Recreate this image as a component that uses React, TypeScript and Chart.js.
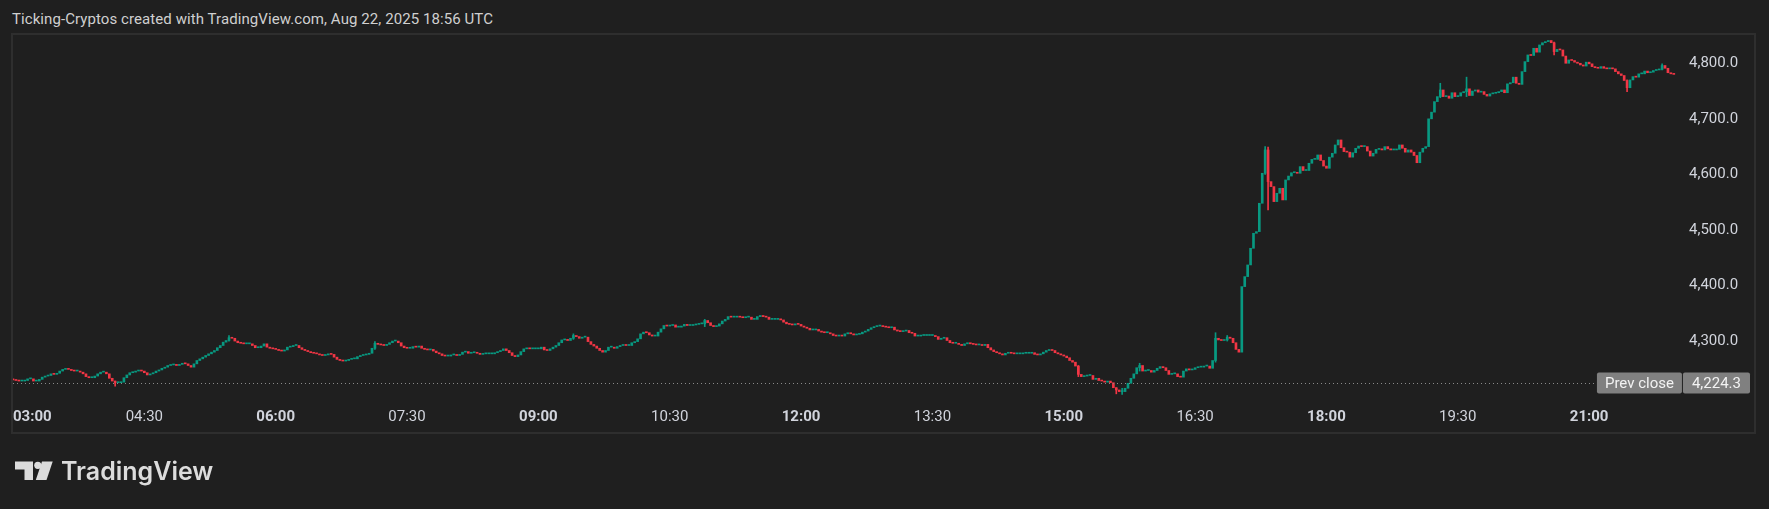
import React, { useEffect, useRef } from "react";
import { Chart, registerables } from "chart.js";

Chart.register(...registerables);

// ---------- data ----------
const titleText = "Ticking-Cryptos created with TradingView.com, Aug 22, 2025 18:56 UTC";
const candleMinutes = 2; // minutes per candle, first candle at 03:00
const firstOpen = 4231;

// 03:00 - 08:00
const closesA = [
  4230, 4229, 4228, 4228, 4229, 4232, 4232, 4228, 4228, 4231,
  4235, 4237, 4238, 4241, 4240, 4242, 4246, 4249, 4250, 4249,
  4247, 4246, 4246, 4244, 4241, 4236, 4234, 4234, 4237, 4241,
  4244, 4244, 4241, 4233, 4228, 4225, 4225, 4226, 4234, 4239,
  4243, 4244, 4246, 4247, 4246, 4243, 4239, 4241, 4243, 4246,
  4248, 4251, 4253, 4256, 4257, 4258, 4256, 4258, 4260, 4259,
  4256, 4253, 4259, 4265, 4268, 4271, 4274, 4277, 4280, 4283,
  4288, 4292, 4298, 4301, 4306, 4305, 4300, 4297, 4296, 4295,
  4295, 4295, 4292, 4288, 4288, 4291, 4295, 4289, 4287, 4286,
  4285, 4283, 4282, 4284, 4289, 4290, 4292, 4292, 4288, 4285,
  4283, 4281, 4279, 4278, 4277, 4275, 4274, 4275, 4277, 4276,
  4271, 4267, 4265, 4264, 4265, 4267, 4268, 4268, 4272, 4274,
  4275, 4276, 4278, 4287, 4296, 4294, 4293, 4292, 4294, 4297,
  4300, 4300, 4297, 4291, 4288, 4287, 4287, 4290, 4289, 4291,
  4287, 4285, 4284, 4285, 4282, 4279, 4277, 4274, 4273, 4273,
  4275,
];
// 08:02 - 12:54
const closesB = [
  4275, 4274, 4276, 4280, 4281, 4278, 4279, 4279, 4278,
  4276, 4277, 4277, 4277, 4277, 4279, 4281, 4283, 4286, 4283,
  4279, 4274, 4272, 4275, 4281, 4286, 4287, 4286, 4286, 4286,
  4286, 4289, 4284, 4283, 4286, 4289, 4292, 4297, 4302, 4303,
  4301, 4305, 4310, 4308, 4305, 4307, 4307, 4299, 4294, 4291,
  4287, 4283, 4280, 4283, 4289, 4289, 4287, 4290, 4292, 4293,
  4292, 4292, 4297, 4299, 4304, 4313, 4316, 4315, 4311, 4309,
  4309, 4316, 4322, 4328, 4327, 4328, 4329, 4325, 4325, 4327,
  4330, 4328, 4328, 4329, 4330, 4331, 4331, 4337, 4333, 4328,
  4326, 4327, 4331, 4336, 4339, 4344, 4343, 4343, 4344, 4343,
  4342, 4343, 4343, 4339, 4339, 4344, 4346, 4344, 4343, 4339,
  4339, 4339, 4340, 4338, 4334, 4331, 4330, 4329, 4331, 4330,
  4327, 4325, 4323, 4320, 4320, 4321, 4318, 4316, 4315, 4315,
  4313, 4310, 4309, 4310, 4309, 4313, 4315, 4313, 4311, 4312,
  4313, 4316, 4318, 4321, 4324, 4326, 4327, 4327,
];
// 12:56 - 17:00
const closesC = [
  4326, 4325, 4324, 4325, 4320, 4318, 4317, 4318, 4319, 4315,
  4314, 4309, 4309, 4310, 4310, 4310, 4310, 4310, 4308, 4303,
  4305, 4306, 4301, 4297, 4296, 4296, 4294, 4292, 4295, 4297,
  4295, 4294, 4293, 4293, 4292, 4294, 4288, 4284, 4281, 4279,
  4277, 4275, 4278, 4279, 4278, 4277, 4277, 4277, 4278, 4278,
  4278, 4279, 4276, 4275, 4277, 4280, 4283, 4284, 4283, 4279,
  4277, 4275, 4273, 4270, 4265, 4262, 4255, 4240, 4236, 4237,
  4238, 4238, 4231, 4233, 4229, 4228, 4226, 4228, 4225, 4216,
  4212, 4209, 4209, 4215, 4224, 4233, 4241, 4252, 4256, 4246,
  4247, 4247, 4244, 4247, 4251, 4254, 4252, 4247, 4240, 4241,
  4241, 4236, 4235, 4246, 4250, 4248, 4249, 4252, 4253, 4253,
  4255, 4255, 4251, 4265, 4305, 4302, 4301, 4302, 4307, 4305,
  4297, 4285, 4280,
];
// 17:02 - 19:32
const closesD = [
  4398, 4416, 4437, 4467, 4494, 4497, 4548, 4602, 4644,
  4587, 4578, 4551, 4566, 4575, 4554, 4590, 4597, 4603, 4603,
  4602, 4614, 4607, 4607, 4620, 4627, 4627, 4635, 4625, 4615,
  4611, 4631, 4638, 4653, 4662, 4648, 4641, 4640, 4631, 4639,
  4647, 4651, 4650, 4650, 4642, 4633, 4638, 4645, 4646, 4644,
  4650, 4646, 4644, 4644, 4645, 4653, 4647, 4640, 4644, 4640,
  4634, 4621, 4640, 4647, 4650, 4700, 4712, 4731, 4740, 4752,
  4740, 4741, 4737, 4747, 4740, 4741, 4747,
];
// 19:34 - 21:58
const closesE = [
  4749, 4754, 4742, 4750, 4752, 4748, 4749, 4744, 4741, 4745,
  4746, 4747, 4749, 4752, 4747, 4763, 4765, 4775, 4764, 4762,
  4785, 4803, 4815, 4814, 4827, 4820, 4833, 4837, 4839, 4841,
  4837, 4821, 4825, 4824, 4813, 4800, 4806, 4805, 4802, 4800,
  4797, 4795, 4802, 4799, 4794, 4792, 4791, 4794, 4791, 4790,
  4791, 4790, 4785, 4781, 4778, 4769, 4756, 4770, 4776, 4775,
  4781, 4781, 4786, 4783, 4784, 4787, 4788, 4789, 4796, 4791,
  4783, 4781, 4780,
];

// candles whose wicks reach beyond the body
const wickIndex = [35, 74, 124, 192, 237, 365, 378, 380, 386, 412, 416, 429, 430, 489, 498, 528, 553, 565];
const wickHigh = [4228, 4310, 4299, 4313, 4339, 4256, 4216, 4215, 4260, 4315, 4310, 4650, 4649, 4764, 4775, 4838, 4770, 4799];
const wickLow = [4219, 4300, 4285, 4303, 4326, 4236, 4205, 4204, 4246, 4262, 4300, 4600, 4536, 4738, 4740, 4815, 4749, 4788];

const timeLabels = ["03:00", "04:30", "06:00", "07:30", "09:00", "10:30", "12:00", "13:30", "15:00", "16:30", "18:00", "19:30", "21:00"];
const timeLabelStep = 90; // minutes
const boldEvery = 180; // minutes
const priceTicks = [4300, 4400, 4500, 4600, 4700, 4800];
const prevClose = 4224.3;

// ---------- style ----------
const FONT = "Roboto, 'Liberation Sans', sans-serif";
const UP = "#089981";
const DOWN = "#f23645";
const BG = "#1f1f1f";
const TEXT = "#d1d4dc";

const closes = [...closesA, ...closesB, ...closesC, ...closesD, ...closesE];

function fmtPrice(v: number) {
  return v.toLocaleString("en-US", { minimumFractionDigits: 1, maximumFractionDigits: 1 });
}

const overlayPlugin = {
  id: "tvOverlay",
  afterDraw(chart: any) {
    const { ctx, chartArea, scales } = chart;
    const xs = scales.x;
    const ys = scales.y;
    ctx.save();
    // time axis labels
    ctx.textBaseline = "middle";
    ctx.textAlign = "left";
    timeLabels.forEach((lab, k) => {
      const v = k * timeLabelStep;
      const bold = v % boldEvery === 0;
      ctx.font = `${bold ? "bold " : ""}15px ${FONT}`;
      ctx.fillStyle = TEXT;
      const w = ctx.measureText(lab).width;
      let x = xs.getPixelForValue(v) - w / 2;
      if (x < chartArea.left) x = chartArea.left;
      ctx.fillText(lab, x, chartArea.bottom + 13);
    });

    // previous close line + labels
    const y = Math.round(ys.getPixelForValue(prevClose));
    ctx.font = `15px ${FONT}`;
    const valText = fmtPrice(prevClose);
    const pcText = "Prev close";
    const valW = ctx.measureText(valText).width + 18;
    const pcW = ctx.measureText(pcText).width + 16;
    const valRight = chartArea.right + 66;
    const valLeft = valRight - valW;
    const pcLeft = valLeft - 1 - pcW;
    const h = 21;

    ctx.strokeStyle = "#8a8a8a";
    ctx.lineWidth = 1;
    ctx.setLineDash([1, 3]);
    ctx.beginPath();
    ctx.moveTo(chartArea.left, y + 0.5);
    ctx.lineTo(pcLeft, y + 0.5);
    ctx.stroke();
    ctx.setLineDash([]);

    ctx.fillStyle = "#808080";
    const rr = (x: number, w: number) => {
      ctx.beginPath();
      ctx.roundRect(x, y - h / 2, w, h, 2);
      ctx.fill();
    };
    rr(pcLeft, pcW);
    rr(valLeft, valW);
    ctx.fillStyle = "#f2f2f2";
    ctx.textAlign = "center";
    ctx.fillText(pcText, pcLeft + pcW / 2, y + 1);
    ctx.fillText(valText, valLeft + valW / 2, y + 1);
    ctx.restore();
  },
};

function CandleChart() {
  const ref = useRef<HTMLCanvasElement | null>(null);
  useEffect(() => {
    if (!ref.current) return;
    const opens = closes.map((c, i) => (i === 0 ? firstOpen : closes[i - 1]));
    const times = closes.map((_, i) => i * candleMinutes);
    const colors = closes.map((c, i) => (c >= opens[i] ? UP : DOWN));
    const bodyData = closes.map((c, i) => ({ x: times[i], y: [opens[i], c] }));
    const wickData = wickIndex.map((idx, k) => ({ x: times[idx], y: [wickLow[k], wickHigh[k]] }));
    const wickColors = wickIndex.map((idx) => colors[idx]);

    const chart = new Chart(ref.current, {
      type: "bar",
      data: {
        datasets: [
          {
            data: wickData as any,
            backgroundColor: wickColors,
            barThickness: 1,
            grouped: false,
            borderWidth: 0,
            order: 2,
          },
          {
            data: bodyData as any,
            backgroundColor: colors,
            barThickness: 2,
            grouped: false,
            minBarLength: 1,
            borderWidth: 0,
            order: 1,
          },
        ],
      },
      options: {
        responsive: false,
        animation: false,
        devicePixelRatio: 1,
        layout: { padding: { left: 13, top: 35, right: 13, bottom: 76 } },
        plugins: {
          legend: { display: false },
          tooltip: { enabled: false },
          title: { display: false },
        },
        scales: {
          x: {
            type: "linear",
            offset: false,
            min: 0,
            max: 1145,
            grid: { display: false, drawTicks: false, offset: false },
            border: { display: false },
            ticks: { display: false, stepSize: timeLabelStep, includeBounds: false },
            afterFit: (s: any) => {
              s.height = 29;
            },
          },
          y: {
            position: "right",
            min: 4186.7,
            max: 4850.9,
            grid: { display: false, drawTicks: false },
            border: { display: false },
            ticks: {
              color: TEXT,
              padding: 5,
              font: { family: FONT, size: 15 },
              callback: (v: any) => fmtPrice(Number(v)),
            },
            afterBuildTicks: (s: any) => {
              s.ticks = priceTicks.map((value) => ({ value }));
            },
            afterFit: (s: any) => {
              s.width = 72;
            },
          },
        },
      } as any,
      plugins: [overlayPlugin],
    });
    return () => chart.destroy();
  }, []);
  return (
    <canvas
      ref={ref}
      width={1769}
      height={509}
      style={{ position: "absolute", left: 0, top: 0, width: 1769, height: 509 }}
    />
  );
}

export default function App() {
  return (
    <div
      style={{
        position: "fixed",
        left: 0,
        top: 0,
        width: 1769,
        height: 509,
        background: BG,
        overflow: "hidden",
        fontFamily: FONT,
      }}
    >
      <div
        style={{
          position: "absolute",
          left: 12,
          top: 10,
          fontSize: 15,
          lineHeight: "18px",
          letterSpacing: "0.08px",
          color: "#d0d0d0",
          whiteSpace: "nowrap",
        }}
      >
        {titleText}
      </div>
      <div
        style={{
          position: "absolute",
          left: 11,
          top: 33,
          width: 1741,
          height: 397,
          border: "2px solid #2e2e2e",
        }}
      />
      <CandleChart />
      <svg
        width={60}
        height={30}
        style={{ position: "absolute", left: 0, top: 450 }}
        viewBox="0 450 60 30"
      >
        <path d="M15 461.5 H33 V480 H24.5 V469.5 H15 Z" fill="#dcdcdc" />
        <circle cx={37.8} cy={465.3} r={3.6} fill="#dcdcdc" />
        <path d="M42 461.5 H52.7 L46.5 480 H35.8 Z" fill="#dcdcdc" />
      </svg>
      <div
        style={{
          position: "absolute",
          left: 61,
          top: 456,
          fontFamily: "Inter, 'Noto Sans', sans-serif",
          fontWeight: 600,
          fontSize: 25,
          lineHeight: "30px",
          letterSpacing: "0px",
          color: "#dcdcdc",
          whiteSpace: "nowrap",
        }}
      >
        TradingView
      </div>
    </div>
  );
}
